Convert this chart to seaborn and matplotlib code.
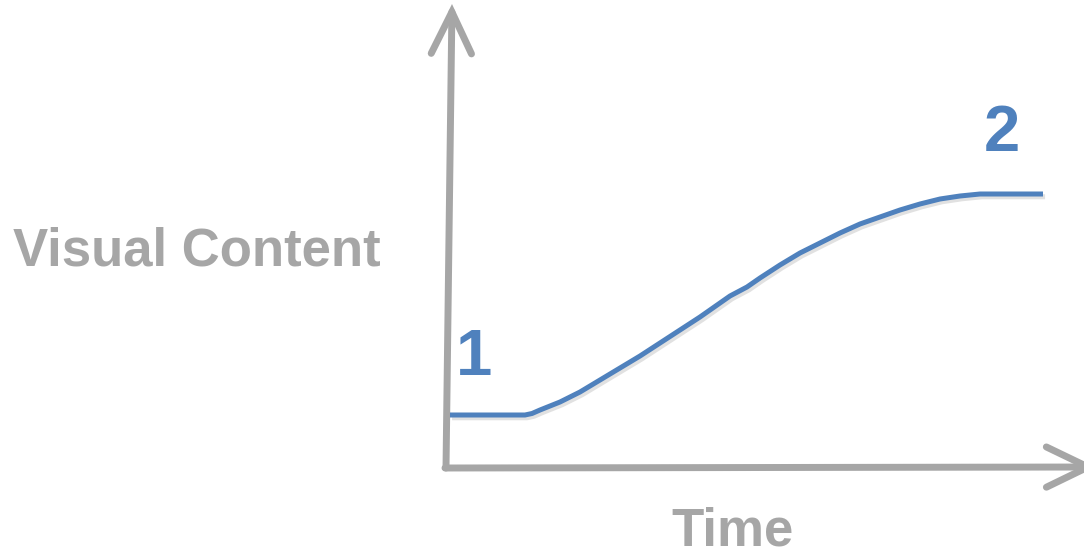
import matplotlib
matplotlib.use("Agg")
import matplotlib.pyplot as plt
import matplotlib.patheffects as pe
from matplotlib.patches import FancyArrowPatch, ArrowStyle
import seaborn as sns
import pandas as pd

# Curve (time, visual content), origin at the axes corner
time = [4, 79, 86, 94, 114, 134, 154, 174, 194, 214, 234, 254, 274, 284, 301,
        314, 334, 354, 374, 394, 414, 434, 454, 474, 494, 514, 534, 597]
content = [52, 52, 53.5, 57, 65, 75, 87, 99, 111, 124, 137, 150, 164, 171, 180,
           189, 202, 214, 224, 234, 243, 250, 257, 263, 268, 271, 273, 273]
y_label = "Visual Content"
x_label = "Time"
point_labels = ["1", "2"]

df = pd.DataFrame({"time": time, "content": content})

sns.set_style("white")
plt.rcParams["font.family"] = ["Liberation Sans", "DejaVu Sans"]

GRAY = "#a6a6a6"
BLUE = "#4f81bd"

fig = plt.figure(figsize=(10.84, 5.53), dpi=100)
ax = fig.add_axes([0, 0, 1, 1])
ax.set_xlim(-446, 638)
ax.set_ylim(-86, 467)
ax.axis("off")

line_shadow = [pe.SimpleLineShadow(offset=(1.5, -2), shadow_color="#888888", alpha=0.25),
               pe.Normal()]

# axis arrows
for start, end in [((0, -1), (6, 463)), ((-1, -1), (650, 0))]:
    arr = FancyArrowPatch(start, end,
                          arrowstyle=ArrowStyle("->", head_length=30, head_width=14.5),
                          mutation_scale=1, color=GRAY, lw=5,
                          capstyle="round", joinstyle="miter",
                          shrinkA=0, shrinkB=0, zorder=2)
    ax.add_patch(arr)

sns.lineplot(data=df, x="time", y="content", ax=ax, color=BLUE, lw=3.6,
             sort=False, estimator=None, zorder=3,
             path_effects=line_shadow, solid_capstyle="butt",
             solid_joinstyle="round")

ax.text(-249, 202, y_label, fontsize=38, fontweight="bold", color=GRAY,
        ha="center", va="baseline")
ax.text(287, -78, x_label, fontsize=38, fontweight="bold", color=GRAY,
        ha="center", va="baseline")
ax.text(28, 92, point_labels[0], fontsize=47, fontweight="bold", color=BLUE,
        ha="center", va="baseline")
ax.text(556, 316, point_labels[1], fontsize=47, fontweight="bold", color=BLUE,
        ha="center", va="baseline")

fig.savefig("out.png", dpi=100)
